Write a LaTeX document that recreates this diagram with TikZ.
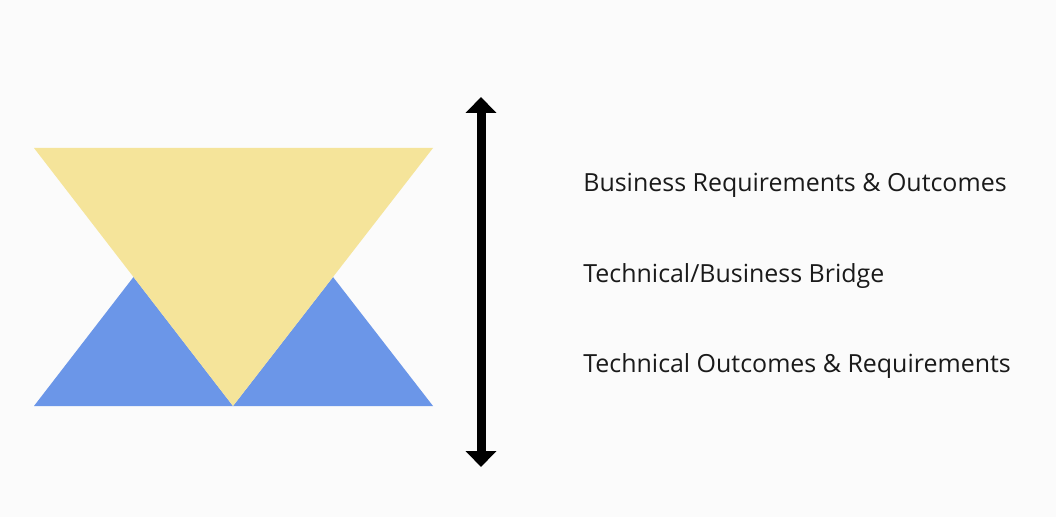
\documentclass[tikz,border=0pt]{standalone}
\usepackage{fontspec}
\setmainfont{Open Sans}
\usetikzlibrary{arrows.meta, positioning, calc}
\definecolor{sandyellow}{RGB}{245,228,154}
\definecolor{skyblue}{RGB}{107,150,232}
\definecolor{inkblack}{RGB}{26,26,26}

\begin{document}
\begin{tikzpicture}[
    x=0.02cm, y=-0.02cm,
    upper/.style={fill=sandyellow, draw=none},
    lower/.style={fill=skyblue, draw=none},
    label/.style={anchor=base west, inner sep=0pt, text=inkblack, font=\fontsize{14.2}{17}\selectfont},
    arrow/.style={line width=0.18cm, {Triangle[length=0.32cm, width=0.6cm]}-{Triangle[length=0.32cm, width=0.6cm]}}
]
% Frame
\fill[gray!3] (0,0) rectangle (1056,517);
\useasboundingbox (0,0) rectangle (1056,517);

% Shapes
\coordinate (tl) at (34,148);
\coordinate (tr) at (433,148);
\coordinate (bl) at (34,406);
\coordinate (bm) at (233,406);
\coordinate (br) at (433,406);
\fill[lower] (bl) -- ($(tl)!0.5!(bm)$) -- (bm) -- cycle;
\fill[lower] (bm) -- ($(tr)!0.5!(bm)$) -- (br) -- cycle;
\fill[upper] (tl) -- (tr) -- (bm) -- cycle;

% Nodes
\coordinate (top) at (481,97);
\coordinate (bottom) at (481,467);
\node[label] (business) at (583,192) {Business Requirements \& Outcomes};
\node[label] (bridge) at (583,282) {Technical/Business Bridge};
\node[label] (technical) at (583,372) {Technical Outcomes \& Requirements};

% Connections
\draw[arrow] (top) -- (bottom);
\end{tikzpicture}
\end{document}
